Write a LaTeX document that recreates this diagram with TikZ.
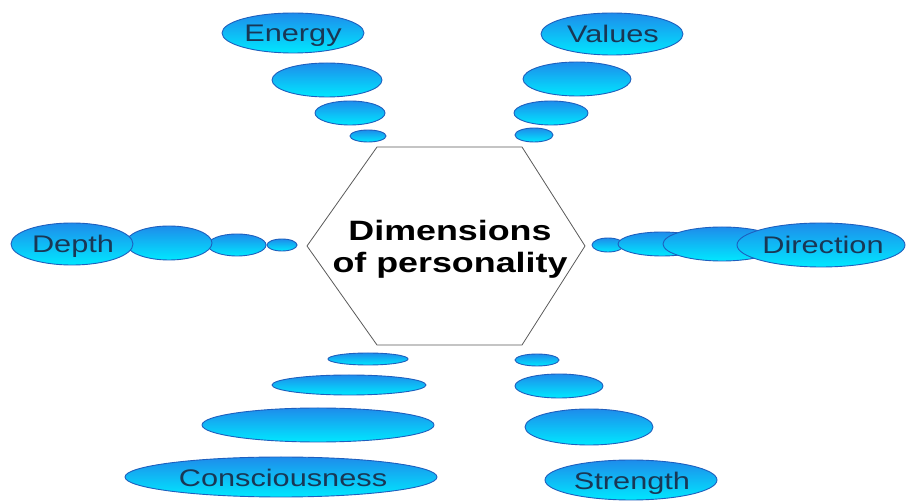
\documentclass[tikz,border=0pt]{standalone}
\usepackage{fontspec}
\setmainfont{Liberation Sans}
\usetikzlibrary{shapes.geometric}
\definecolor{bubtop}{RGB}{30,140,235}
\definecolor{bubbot}{RGB}{0,232,255}
\definecolor{bubline}{RGB}{30,95,190}
\definecolor{lblcol}{RGB}{25,55,85}
\definecolor{hexcol}{RGB}{90,90,90}
\tikzset{
  bub/.style={ellipse, draw=bubline, line width=0.9pt, top color=bubtop, bottom color=bubbot, inner sep=0pt},
  lbl/.style={text=lblcol, font=\fontsize{24}{28}\selectfont, inner sep=0pt, anchor=base},
  title/.style={font=\bfseries\fontsize{28}{32}\selectfont, align=center, inner sep=0pt},
  hexline/.style={draw=hexcol, line width=0.8pt, fill=white}
}
\newcommand{\bb}[5]{\node[bub, minimum width=#3pt, minimum height=#4pt] (#1) at (#2) {};}
\newcommand{\wide}[1]{\scalebox{1.28}[1]{#1}}
\begin{document}
\begin{tikzpicture}[x=1pt,y=-1pt]
\useasboundingbox[fill=white] (0,0) rectangle (906,502);
% hexagon
\coordinate (h1) at (377,147);
\coordinate (h2) at (522,147);
\coordinate (h3) at (585,246);
\coordinate (h4) at (522,345);
\coordinate (h5) at (377,345);
\coordinate (h6) at (307,246);
\draw[hexline] (h1) -- (h2) -- (h3) -- (h4) -- (h5) -- (h6) -- cycle;
\node[title] (center) at (450,249) {\wide{Dimensions}\\\wide{of personality}};
% Energy group
\bb{e4}{368,136}{36}{12}{}
\bb{e3}{350,113}{70}{24}{}
\bb{e2}{327,80}{110}{34}{}
\bb{e1}{293,33}{142}{40}{}
\node[lbl] (te) at (293,42) {\wide{Energy}};
% Values group
\bb{v4}{534,135}{38}{14}{}
\bb{v3}{551,113}{74}{24}{}
\bb{v2}{577,79}{108}{34}{}
\bb{v1}{612,34}{142}{42}{}
\node[lbl] (tv) at (613,43) {\wide{Values}};
% Depth group
\bb{d4}{282,245}{30}{12}{}
\bb{d3}{237,245}{58}{22}{}
\bb{d2}{169,243}{86}{34}{}
\bb{d1}{72,244}{122}{42}{}
\node[lbl] (td) at (73,253) {\wide{Depth}};
% Direction group
\bb{r4}{608,245}{32}{14}{}
\bb{r3}{662,244}{88}{24}{}
\bb{r2}{722,244}{118}{34}{}
\bb{r1}{821,245}{168}{44}{}
\node[lbl] (tr) at (823,254) {\wide{Direction}};
% Consciousness group
\bb{c4}{368,359}{80}{12}{}
\bb{c3}{349,385}{154}{20}{}
\bb{c2}{318,425}{232}{34}{}
\bb{c1}{281,477}{312}{40}{}
\node[lbl] (tc) at (283,487) {\wide{Consciousness}};
% Strength group
\bb{s4}{537,360}{44}{12}{}
\bb{s3}{559,386}{88}{24}{}
\bb{s2}{589,427}{128}{36}{}
\bb{s1}{631,480}{172}{40}{}
\node[lbl] (ts) at (632,490) {\wide{Strength}};
\end{tikzpicture}
\end{document}
